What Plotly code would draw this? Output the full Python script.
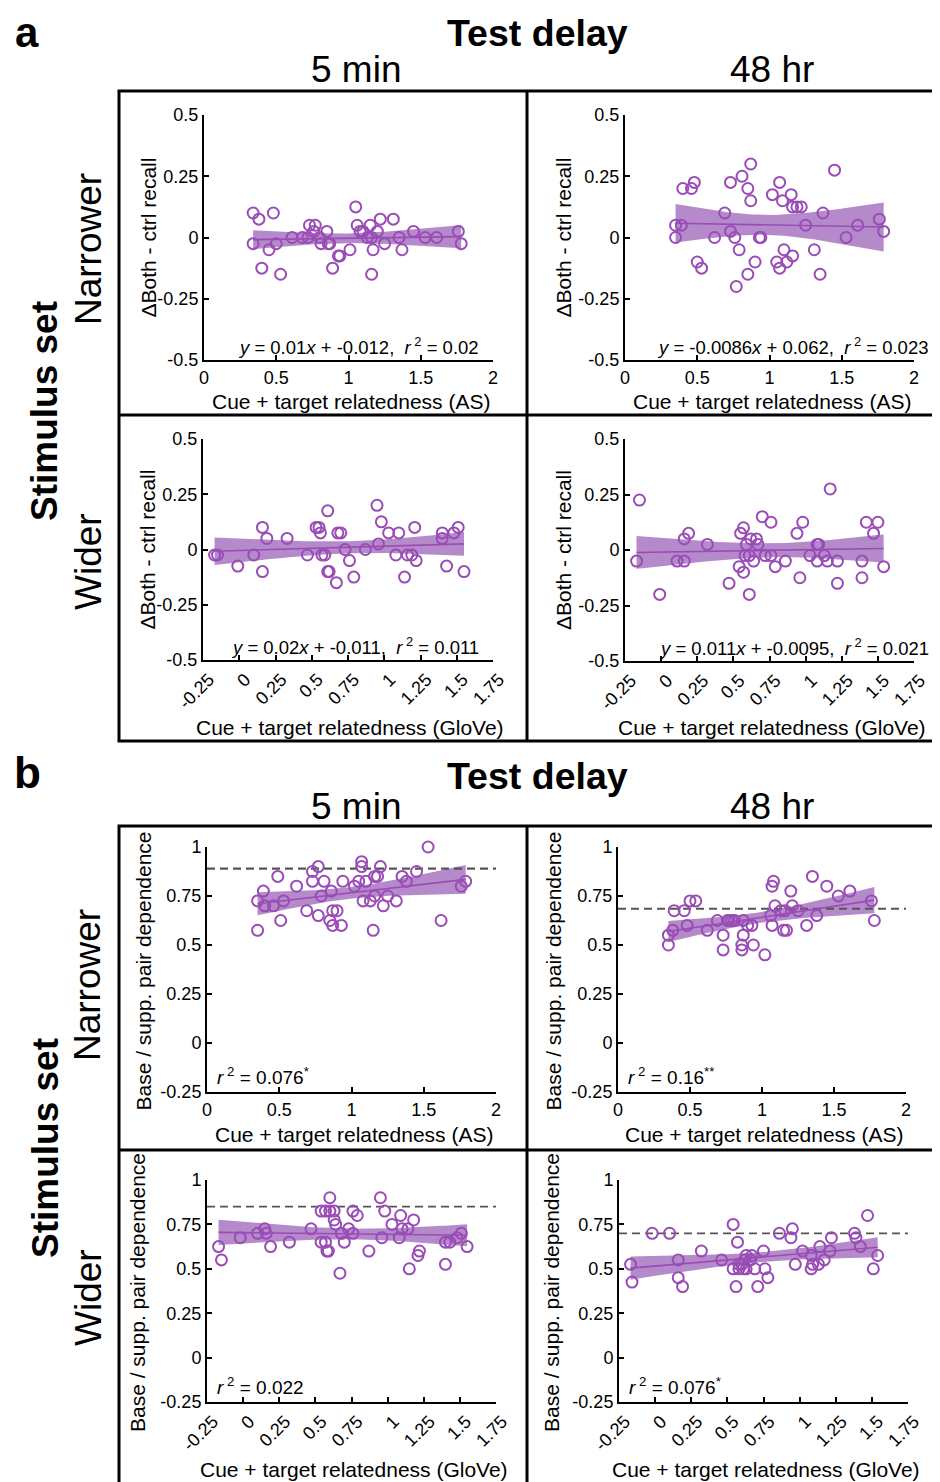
import numpy as np
import plotly.graph_objects as go

W, H = 940, 1482
OFFSET = 8  # page body margin of the browser
FONT = "Liberation Sans, Arial, Helvetica, sans-serif"
PURPLE = "#9a4cb6"
LINE_PURPLE = "#9a4cb3"
BAND = "#b58acb"
T_CRIT = 2.02

# ---------------- data ----------------
# a: ΔBoth - ctrl recall
a_5min_AS_x = [0.34,0.38,0.48,0.34,0.50,0.45,0.40,0.53,0.61,0.68,0.72,0.73,0.77,0.76,0.80,0.81,0.85,0.86,0.87,0.89,
               0.93,0.94,1.01,1.05,1.06,1.08,1.10,1.13,1.15,1.16,1.17,1.16,1.20,1.22,1.25,1.31,1.35,1.37,1.45,1.53,
               1.61,1.76,1.78]
a_5min_AS_y = [0.1,0.075,0.1,-0.025,-0.025,-0.05,-0.125,-0.15,0,0,0,0.05,0.05,0.025,0,-0.025,0.025,-0.025,-0.025,-0.125,
               -0.075,-0.075,-0.05,0.125,0.05,0.025,0.025,0,0.05,0,-0.05,-0.15,0.025,0.075,-0.025,0.075,0,-0.05,0.025,0,
               0,0.025,-0.025]

a_48hr_AS_x = [0.35,0.35,0.39,0.40,0.46,0.48,0.50,0.53,0.62,0.69,0.73,0.73,0.76,0.77,0.79,0.81,0.85,0.85,0.87,0.87,
               0.90,0.93,0.94,1.02,1.05,1.07,1.07,1.09,1.10,1.12,1.15,1.16,1.16,1.19,1.22,1.25,1.31,1.35,1.37,1.45,
               1.53,1.61,1.76,1.79]
a_48hr_AS_y = [0,0.05,0.05,0.2,0.2,0.225,-0.1,-0.125,0,0.1,0.225,0.025,0,-0.2,-0.05,0.25,0.2,-0.15,0.3,0.15,
               -0.1,0,0,0.175,-0.1,0.225,-0.125,0.15,-0.05,-0.1,0.175,-0.075,0.125,0.125,0.125,0.05,-0.05,-0.15,0.1,0.275,
               0,0.05,0.075,0.025]

a_5min_GloVe_x = [-0.17,-0.15,-0.01,0.10,0.16,0.16,0.19,0.33,0.47,0.53,0.55,0.56,0.57,0.59,0.61,0.61,0.62,0.67,0.68,0.70,
                  0.73,0.76,0.79,0.87,0.95,0.96,0.98,1.03,1.08,1.10,1.14,1.16,1.19,1.21,1.22,1.40,1.40,1.43,1.48,1.51,
                  1.55]
a_5min_GloVe_y = [-0.025,-0.025,-0.075,-0.025,0.1,-0.1,0.05,0.05,-0.025,0.1,0.1,0.075,-0.025,-0.025,0.175,-0.1,-0.1,-0.15,0.075,0.075,
                  0,-0.05,-0.125,0,0.2,0.025,0.125,0.075,-0.025,0.075,-0.125,-0.025,-0.025,0.1,-0.05,0.075,0.05,-0.075,0.075,0.1,
                  -0.1]

a_48hr_GloVe_x = [-0.15,-0.17,-0.01,0.11,0.16,0.16,0.19,0.32,0.47,0.54,0.55,0.57,0.57,0.58,0.59,0.61,0.61,0.62,0.64,0.66,
                  0.67,0.70,0.72,0.76,0.76,0.79,0.86,0.94,0.96,0.98,1.03,1.08,1.09,1.08,1.13,1.15,1.17,1.22,1.22,1.39,
                  1.39,1.42,1.47,1.50,1.54]
a_48hr_GloVe_y = [0.225,-0.05,-0.2,-0.05,-0.05,0.05,0.075,0.025,-0.15,-0.075,0.075,0.1,-0.1,-0.025,0.025,-0.025,-0.2,0.05,-0.05,0.05,
                  0.025,0.15,-0.025,0.125,-0.025,-0.075,-0.05,0.075,-0.125,0.125,-0.025,0.025,0.025,-0.05,-0.025,-0.05,0.275,-0.05,-0.15,-0.05,
                  -0.125,0.125,0.075,0.125,-0.075]

# b: Base / supp. pair dependence
b_5min_AS_x = [0.35,0.35,0.39,0.40,0.46,0.49,0.51,0.53,0.62,0.69,0.73,0.73,0.77,0.77,0.79,0.81,0.86,0.85,0.87,0.87,
               0.90,0.93,0.94,1.02,1.05,1.07,1.07,1.08,1.10,1.13,1.15,1.16,1.16,1.18,1.20,1.22,1.25,1.31,1.35,1.38,
               1.45,1.53,1.62,1.76,1.79]
b_5min_AS_y = [0.725,0.575,0.775,0.70,0.70,0.85,0.625,0.725,0.80,0.675,0.875,0.825,0.90,0.65,0.75,0.825,0.775,0.625,0.675,0.60,
               0.675,0.60,0.825,0.80,0.825,0.925,0.90,0.725,0.825,0.725,0.575,0.75,0.85,0.85,0.90,0.70,0.75,0.725,0.85,0.825,
               0.875,1.0,0.625,0.80,0.825]

b_48hr_AS_x = [0.35,0.35,0.38,0.39,0.46,0.48,0.50,0.54,0.62,0.69,0.73,0.73,0.76,0.77,0.79,0.81,0.86,0.86,0.87,0.87,
               0.90,0.93,0.94,1.02,1.06,1.07,1.08,1.07,1.09,1.13,1.15,1.17,1.16,1.20,1.21,1.25,1.31,1.35,1.38,1.45,
               1.53,1.61,1.76,1.78]
b_48hr_AS_y = [0.5,0.55,0.575,0.675,0.675,0.60,0.725,0.725,0.575,0.625,0.55,0.475,0.625,0.625,0.625,0.625,0.50,0.475,0.625,0.55,
               0.60,0.60,0.50,0.45,0.65,0.80,0.825,0.60,0.70,0.675,0.575,0.575,0.675,0.775,0.70,0.675,0.60,0.85,0.65,0.80,
               0.75,0.775,0.725,0.625]

b_5min_GloVe_x = [-0.17,-0.15,-0.02,0.10,0.15,0.16,0.19,0.32,0.47,0.54,0.54,0.57,0.57,0.58,0.59,0.60,0.60,0.63,0.63,0.64,
                  0.67,0.68,0.70,0.73,0.76,0.76,0.79,0.87,0.95,0.96,0.98,1.03,1.08,1.09,1.10,1.14,1.15,1.18,1.21,1.22,
                  1.40,1.40,1.43,1.48,1.51,1.55]
b_5min_GloVe_y = [0.625,0.55,0.675,0.70,0.725,0.70,0.625,0.65,0.725,0.65,0.825,0.825,0.65,0.60,0.60,0.825,0.90,0.825,0.775,0.75,
                  0.475,0.70,0.65,0.725,0.70,0.825,0.80,0.60,0.90,0.675,0.825,0.75,0.675,0.80,0.725,0.725,0.50,0.775,0.575,0.60,
                  0.525,0.65,0.65,0.675,0.70,0.625]

b_48hr_GloVe_x = [-0.17,-0.16,-0.02,0.10,0.16,0.16,0.19,0.32,0.46,0.54,0.54,0.56,0.57,0.58,0.58,0.60,0.61,0.62,0.63,0.63,
                  0.66,0.67,0.69,0.71,0.75,0.76,0.78,0.86,0.94,0.95,0.97,1.02,1.08,1.08,1.09,1.13,1.14,1.17,1.21,1.22,
                  1.38,1.39,1.42,1.47,1.51,1.54]
b_48hr_GloVe_y = [0.525,0.425,0.70,0.70,0.55,0.45,0.40,0.60,0.55,0.75,0.50,0.40,0.65,0.525,0.50,0.525,0.50,0.55,0.50,0.575,
                  0.55,0.575,0.50,0.40,0.60,0.50,0.45,0.70,0.675,0.725,0.525,0.60,0.575,0.50,0.525,0.525,0.625,0.55,0.60,0.675,
                  0.70,0.675,0.625,0.80,0.50,0.575]

b_reference_levels = [0.89, 0.685, 0.85, 0.70]

a_stat_texts = ["<i>y</i> = 0.01<i>x</i> + -0.012,  <i>r</i><sup> 2</sup> = 0.02",
                "<i>y</i> = -0.0086<i>x</i> + 0.062,  <i>r</i><sup> 2</sup> = 0.023",
                "<i>y</i> = 0.02<i>x</i> + -0.011,  <i>r</i><sup> 2</sup> = 0.011",
                "<i>y</i> = 0.011<i>x</i> + -0.0095,  <i>r</i><sup> 2</sup> = 0.021"]
b_stat_texts = ["<i>r</i><sup> 2</sup> = 0.076<sup>*</sup>",
                "<i>r</i><sup> 2</sup> = 0.16<sup>**</sup>",
                "<i>r</i><sup> 2</sup> = 0.022",
                "<i>r</i><sup> 2</sup> = 0.076<sup>*</sup>"]

AS_ticks = [0, 0.5, 1, 1.5, 2]
AS_ticktext = ["0", "0.5", "1", "1.5", "2"]
GloVe_ticks = [-0.25, 0, 0.25, 0.5, 0.75, 1, 1.25, 1.5, 1.75]
GloVe_ticktext = ["-0.25", "0", "0.25", "0.5", "0.75", "1", "1.25", "1.5", "1.75"]
a_yticks = [-0.5, -0.25, 0, 0.25, 0.5]
a_yticktext = ["-0.5", "-0.25", "0", "0.25", "0.5"]
b_yticks = [-0.25, 0, 0.25, 0.5, 0.75, 1]
b_yticktext = ["-0.25", "0", "0.25", "0.5", "0.75", "1"]

# ---------------- layout geometry (pixels) ----------------
# box = (x0, x1, ytop, ybottom) of plot area; ytitle_dx = y-title centre offset from the axis
panels = [
    dict(x=a_5min_AS_x, y=a_5min_AS_y, box=(204, 493, 115, 360), kind="a", metric="AS", idx=0, ytitle_dx=-56),
    dict(x=a_48hr_AS_x, y=a_48hr_AS_y, box=(625, 914, 115, 360), kind="a", metric="AS", idx=1, ytitle_dx=-62),
    dict(x=a_5min_GloVe_x, y=a_5min_GloVe_y, box=(203, 493, 439, 660), kind="a", metric="GloVe", idx=2, ytitle_dx=-56),
    dict(x=a_48hr_GloVe_x, y=a_48hr_GloVe_y, box=(625, 914, 439, 661), kind="a", metric="GloVe", idx=3, ytitle_dx=-62),
    dict(x=b_5min_AS_x, y=b_5min_AS_y, box=(207, 496, 847, 1092), kind="b", metric="AS", idx=0, ytitle_dx=-64),
    dict(x=b_48hr_AS_x, y=b_48hr_AS_y, box=(618, 906, 847, 1092), kind="b", metric="AS", idx=1, ytitle_dx=-65),
    dict(x=b_5min_GloVe_x, y=b_5min_GloVe_y, box=(207, 496, 1180, 1402), kind="b", metric="GloVe", idx=2, ytitle_dx=-70),
    dict(x=b_48hr_GloVe_x, y=b_48hr_GloVe_y, box=(619, 908, 1180, 1402), kind="b", metric="GloVe", idx=3, ytitle_dx=-68),
]


def fx(px):
    return (px - OFFSET) / W


def fy(py):
    return 1 - (py - OFFSET) / H


fig = go.Figure()
annotations = []
shapes = []

for i, p in enumerate(panels):
    n = i + 1
    xa = "x" if n == 1 else f"x{n}"
    ya = "y" if n == 1 else f"y{n}"
    x0, x1, yt, yb = p["box"]
    xs = np.array(p["x"], dtype=float)
    ys = np.array(p["y"], dtype=float)

    # least-squares fit with 95% confidence band
    slope, intercept = np.polyfit(xs, ys, 1)
    nn = len(xs)
    resid = ys - (slope * xs + intercept)
    s = np.sqrt(np.sum(resid ** 2) / (nn - 2))
    xbar = xs.mean()
    sxx = np.sum((xs - xbar) ** 2)
    xg = np.linspace(xs.min(), xs.max(), 80)
    yg = slope * xg + intercept
    half = T_CRIT * s * np.sqrt(1.0 / nn + (xg - xbar) ** 2 / sxx)

    fig.add_trace(go.Scatter(
        x=np.concatenate([xg, xg[::-1]]), y=np.concatenate([yg + half, (yg - half)[::-1]]),
        fill="toself", fillcolor=BAND, line=dict(width=0), mode="lines",
        hoverinfo="skip", showlegend=False, xaxis=xa, yaxis=ya))

    if p["kind"] == "b":
        lev = b_reference_levels[p["idx"]]
        xr = [-0.25, 1.75] if p["metric"] == "GloVe" else [0, 2]
        fig.add_trace(go.Scatter(
            x=xr, y=[lev, lev], mode="lines",
            line=dict(color="#555555", width=2.2 if p["idx"] == 0 else 1.8, dash="8px,5px"),
            showlegend=False, hoverinfo="skip", xaxis=xa, yaxis=ya))

    fig.add_trace(go.Scatter(
        x=xg, y=yg, mode="lines", line=dict(color=LINE_PURPLE, width=1.6),
        showlegend=False, hoverinfo="skip", xaxis=xa, yaxis=ya))

    fig.add_trace(go.Scatter(
        x=xs, y=ys, mode="markers", cliponaxis=False,
        marker=dict(symbol="circle-open", size=11, color=PURPLE, line=dict(width=2, color=PURPLE)),
        showlegend=False, xaxis=xa, yaxis=ya))

    if p["metric"] == "AS":
        xrange, xt, xtt, tang, shift = [0, 2], AS_ticks, AS_ticktext, 0, 0
        xtitle = "Cue + target relatedness (AS)"
    else:
        xrange, xt, xtt, tang, shift = [-0.25, 1.75], GloVe_ticks, GloVe_ticktext, -45, 6
        xtitle = "Cue + target relatedness (GloVe)"
    if p["kind"] == "a":
        yrange, yt_, ytt = [-0.5, 0.5], a_yticks, a_yticktext
        ytitle = "ΔBoth - ctrl recall"
    else:
        yrange, yt_, ytt = [-0.25, 1], b_yticks, b_yticktext
        ytitle = "Base / supp. pair dependence"

    axcommon = dict(showline=True, linecolor="black", linewidth=2, ticks="inside", ticklen=5,
                    tickwidth=1.5, tickcolor="black", showgrid=False, zeroline=False, automargin=False,
                    tickfont=dict(family=FONT, size=18, color="black"))
    fig.update_layout(**{
        ("xaxis" if n == 1 else f"xaxis{n}"): dict(
            domain=[fx(x0), fx(x1)], range=xrange, tickvals=xt, ticktext=xtt, tickangle=tang,
            ticklabelshift=shift, anchor=ya, **axcommon),
        ("yaxis" if n == 1 else f"yaxis{n}"): dict(
            domain=[fy(yb), fy(yt)], range=yrange, tickvals=yt_, ticktext=ytt,
            anchor=xa, **axcommon),
    })

    # axis titles
    if p["metric"] == "AS":
        xt_y = yb + 42
    else:
        xt_y = yb + 67
    annotations.append(dict(text=xtitle, x=fx((x0 + x1) / 2 + 2), y=fy(xt_y), xref="paper", yref="paper",
                            showarrow=False, font=dict(family=FONT, size=21, color="black"),
                            xanchor="center", yanchor="middle"))
    ycenter = (yt + yb) / 2 if p["kind"] == "a" else (yt + yb) / 2 + 2
    annotations.append(dict(text=ytitle, x=fx(x0 + p["ytitle_dx"]), y=fy(ycenter), xref="paper", yref="paper",
                            showarrow=False, textangle=-90,
                            font=dict(family=FONT, size=21, color="black"),
                            xanchor="center", yanchor="middle"))

    # statistics text
    if p["kind"] == "a":
        annotations.append(dict(text=a_stat_texts[p["idx"]], x=fx(x1 + (-12 if p["idx"] in (0, 2) else 17)),
                                y=fy(yb - 14), xref="paper", yref="paper", showarrow=False,
                                xanchor="right", yanchor="middle",
                                font=dict(family=FONT, size=18.5, color="black")))
    else:
        annotations.append(dict(text=b_stat_texts[p["idx"]], x=fx(x0 + 8), y=fy(yb - 16),
                                xref="paper", yref="paper", showarrow=False,
                                xanchor="left", yanchor="middle",
                                font=dict(family=FONT, size=19, color="black")))

# ---------------- headers and row labels ----------------
annotations.append(dict(text="<b>a</b>", x=fx(27), y=fy(8), xref="paper", yref="paper", showarrow=False,
                        font=dict(family=FONT, size=42, color="black"), xanchor="center", yanchor="top",
                        borderpad=0))
annotations.append(dict(text="<b>b</b>", x=fx(27), y=fy(772), xref="paper", yref="paper", showarrow=False,
                        font=dict(family=FONT, size=44, color="black"), xanchor="center", yanchor="middle"))
for top in (0, 1):
    annotations.append(dict(text="<b>Test delay</b>", x=fx(537), y=fy(33 + (743 if top else 0)),
                            xref="paper", yref="paper", showarrow=False,
                            font=dict(family=FONT, size=37.5, color="black"), xanchor="center", yanchor="middle"))
    for lab, cx in (("5 min", 356), ("48 hr", 772)):
        annotations.append(dict(text=lab, x=fx(cx), y=fy(70 + (736 if top else 0)),
                                xref="paper", yref="paper", showarrow=False,
                                font=dict(family=FONT, size=37, color="black"), xanchor="center", yanchor="middle"))

for cy, txt, cx, bold in ((411, "Stimulus set", 45, True), (249, "Narrower", 88, False), (562, "Wider", 88, False),
                          (1148, "Stimulus set", 45, True), (985, "Narrower", 88, False), (1298, "Wider", 88, False)):
    annotations.append(dict(text=("<b>%s</b>" % txt) if bold else txt, x=fx(cx), y=fy(cy), xref="paper", yref="paper",
                            showarrow=False, textangle=-90,
                            font=dict(family=FONT, size=37, color="black"), xanchor="center", yanchor="middle"))

# frames around the panel grids
for (ytop, ymid, ybot) in ((91, 415, 741), (826, 1150, 1500)):
    shapes.append(dict(type="rect", xref="paper", yref="paper", x0=fx(119), x1=fx(960), y0=fy(ybot), y1=fy(ytop),
                       line=dict(color="black", width=3)))
    shapes.append(dict(type="line", xref="paper", yref="paper", x0=fx(527), x1=fx(527), y0=fy(ybot), y1=fy(ytop),
                       line=dict(color="black", width=3)))
    shapes.append(dict(type="line", xref="paper", yref="paper", x0=fx(119), x1=fx(960), y0=fy(ymid), y1=fy(ymid),
                       line=dict(color="black", width=3)))

fig.update_layout(width=W, height=H, margin=dict(l=0, r=0, t=0, b=0, pad=0, autoexpand=False),
                  paper_bgcolor="white", plot_bgcolor="white",
                  annotations=annotations, shapes=shapes, showlegend=False,
                  font=dict(family=FONT, color="black"))

fig.write_html("out.html")
